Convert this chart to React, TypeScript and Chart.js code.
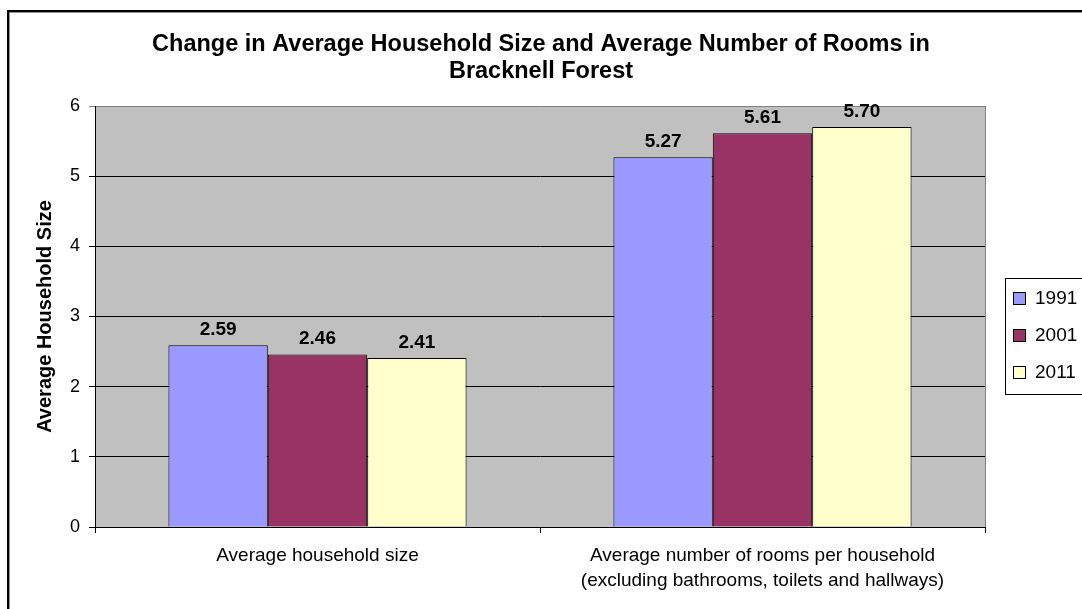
import React, { useEffect, useRef } from "react";
import { Chart, registerables } from "chart.js";

Chart.register(...registerables);

const FONT = "'Liberation Sans', Arial, sans-serif";

const titleLines = [
  "Change in Average Household Size and Average Number of Rooms in",
  "Bracknell Forest",
];
const yAxisTitle = "Average Household Size";
const categories: (string | string[])[] = [
  "Average household size",
  ["Average number of rooms per household", "(excluding bathrooms, toilets and hallways)"],
];
const seriesNames = ["1991", "2001", "2011"];
const values1991 = [2.59, 5.27];
const values2001 = [2.46, 5.61];
const values2011 = [2.41, 5.7];
const seriesColors = ["#9999FF", "#993366", "#FFFFCC"];
const yTickValues = [0, 1, 2, 3, 4, 5, 6];

const decorPlugin = {
  id: "decor",
  beforeDraw(chart: any) {
    const { ctx, chartArea: a } = chart;
    ctx.save();
    ctx.fillStyle = "#ffffff";
    ctx.fillRect(0, 0, chart.width, chart.height);
    ctx.fillStyle = "#C0C0C0";
    ctx.fillRect(a.left, a.top, a.right - a.left, a.bottom - a.top);
    ctx.strokeStyle = "#808080";
    ctx.lineWidth = 1;
    ctx.beginPath();
    ctx.moveTo(a.right + 0.5, a.top);
    ctx.lineTo(a.right + 0.5, a.bottom);
    ctx.stroke();
    // outer chart border
    ctx.fillStyle = "#000000";
    ctx.fillRect(7, 10, 2, chart.height);
    ctx.fillRect(7, 10, chart.width, 2);
    ctx.fillStyle = "#909090";
    ctx.fillRect(9, 12, 1, chart.height);
    ctx.fillRect(9, 12, chart.width, 1);
    ctx.restore();
  },
  afterDatasetsDraw(chart: any) {
    const { ctx } = chart;
    ctx.save();
    ctx.font = `bold 19px ${FONT}`;
    ctx.fillStyle = "#000";
    ctx.textAlign = "center";
    ctx.textBaseline = "alphabetic";
    chart.data.datasets.forEach((ds: any, i: number) => {
      const meta = chart.getDatasetMeta(i);
      meta.data.forEach((bar: any, j: number) => {
        const v = ds.data[j] as number;
        ctx.fillText(v.toFixed(2), bar.x, bar.y - 10);
      });
    });
    ctx.restore();
  },
  afterDraw(chart: any) {
    const { ctx } = chart;
    ctx.save();
    // title
    ctx.font = `bold 23.5px ${FONT}`;
    ctx.fillStyle = "#000";
    ctx.textAlign = "center";
    ctx.textBaseline = "alphabetic";
    titleLines.forEach((t, i) => ctx.fillText(t, 541, 51 + i * 27));
    // legend
    const lx = 1005;
    const ly = 278;
    ctx.fillStyle = "#ffffff";
    ctx.fillRect(lx, ly, chart.width - lx + 5, 116);
    ctx.strokeStyle = "#000";
    ctx.lineWidth = 1;
    ctx.strokeRect(lx + 0.5, ly + 0.5, chart.width - lx + 5, 116);
    ctx.font = `19px ${FONT}`;
    ctx.textAlign = "left";
    ctx.textBaseline = "middle";
    chart.data.datasets.forEach((ds: any, i: number) => {
      const cy = 298 + i * 37;
      ctx.fillStyle = ds.backgroundColor;
      ctx.fillRect(1013, cy - 6, 13, 13);
      ctx.strokeStyle = "#000";
      ctx.strokeRect(1013.5, cy - 5.5, 12, 12);
      ctx.fillStyle = "#000";
      ctx.fillText(ds.label, 1035, cy + 1);
    });
    ctx.restore();
  },
};

export default function App() {
  const ref = useRef<HTMLCanvasElement | null>(null);
  useEffect(() => {
    if (!ref.current) return;
    const seriesValues = [values1991, values2001, values2011];
    const chart = new Chart(ref.current, {
      type: "bar",
      data: {
        labels: categories,
        datasets: seriesNames.map((name, i) => ({
          label: name,
          data: seriesValues[i],
          backgroundColor: seriesColors[i],
          borderColor: "#000000",
          borderWidth: 1,
          categoryPercentage: 0.67,
          barPercentage: 1.0,
        })),
      },
      options: {
        animation: false,
        responsive: false,
        devicePixelRatio: 1,
        layout: { padding: { top: 106, left: 8, right: 97, bottom: 0 } },
        plugins: {
          legend: { display: false },
          title: { display: false },
          tooltip: { enabled: false },
        },
        scales: {
          x: {
            offset: true,
            grid: {
              display: true,
              drawOnChartArea: false,
              drawTicks: true,
              tickLength: 6,
              color: "#000000",
              offset: true,
            },
            border: { display: true, color: "#000000", width: 1 },
            ticks: {
              color: "#000000",
              font: { family: FONT, size: 19, lineHeight: 25 / 19 },
              padding: 10,
              maxRotation: 0,
              autoSkip: false,
            },
            afterFit: (s: any) => {
              s.height = 82;
            },
          },
          y: {
            min: yTickValues[0],
            max: yTickValues[yTickValues.length - 1],
            ticks: {
              stepSize: 1,
              color: "#000000",
              font: { family: FONT, size: 18 },
              padding: 9,
            },
            grid: {
              color: (c: any) =>
                c.tick && c.tick.value === yTickValues[yTickValues.length - 1] ? "#808080" : "#000000",
              tickLength: 6,
              lineWidth: 1,
            },
            border: { display: true, color: "#000000", width: 1 },
            title: {
              display: true,
              text: yAxisTitle,
              color: "#000000",
              font: { family: FONT, size: 20, weight: "bold" },
              padding: { top: 25, bottom: 0 },
            },
            afterFit: (s: any) => {
              s.width = 87;
            },
          },
        },
      },
      plugins: [decorPlugin],
    } as any);
    return () => chart.destroy();
  }, []);
  return (
    <div style={{ position: "fixed", left: 0, top: 0, width: 1082, height: 609, overflow: "hidden", background: "#fff" }}>
      <canvas ref={ref} width={1082} height={609} style={{ width: 1082, height: 609, display: "block" }} />
    </div>
  );
}
